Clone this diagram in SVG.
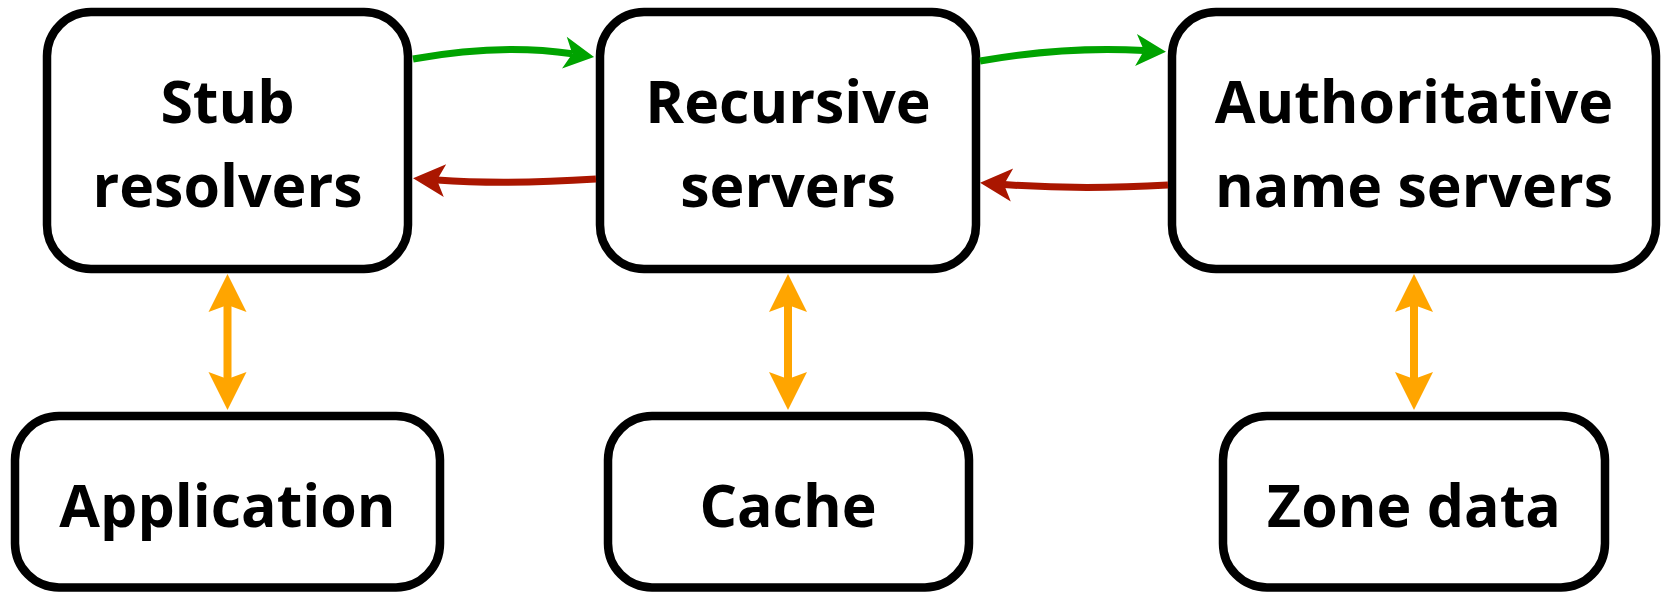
<svg xmlns="http://www.w3.org/2000/svg" width="1665" height="593" viewBox="0 0 1665 593">
  <style>
    .box { fill: #ffffff; stroke: #000000; stroke-width: 8.5; }
    .lbl { font-family: "Open Sans", "Liberation Sans", sans-serif; font-weight: 700; font-size: 59px; fill: #000000; text-anchor: middle; font-variant-ligatures: none; }
    .req { fill: none; stroke: #00a300; stroke-width: 7; }
    .rsp { fill: none; stroke: #aa1600; stroke-width: 7; }
    .acc { fill: none; stroke: #ffa500; stroke-width: 8; }
  </style>
  <defs>
    <marker id="hg" markerUnits="userSpaceOnUse" viewBox="-2 -20 36 40" markerWidth="36" markerHeight="40" refX="8" refY="0" orient="auto">
      <path d="M0,-16 L30,0 L0,16 L8,0 Z" fill="#00a300"/>
    </marker>
    <marker id="hr" markerUnits="userSpaceOnUse" viewBox="-2 -20 38 40" markerWidth="38" markerHeight="40" refX="8" refY="0" orient="auto">
      <path d="M0,-16.5 L32,0 L0,16.5 L8,0 Z" fill="#aa1600"/>
    </marker>
    <marker id="ho" markerUnits="userSpaceOnUse" viewBox="-2 -22 44 44" markerWidth="44" markerHeight="44" refX="7" refY="0" orient="auto-start-reverse">
      <path d="M0,-19 L38,0 L0,19 L7,0 Z" fill="#ffa500"/>
    </marker>
  </defs>

  <g id="stub">
    <rect class="box" x="47" y="12" width="361" height="257" rx="44" ry="44"/>
    <text class="lbl" x="227.5" y="123">Stub</text>
    <text class="lbl" x="227.5" y="206.5">resolvers</text>
  </g>
  <g id="recursive">
    <rect class="box" x="600" y="12" width="376" height="257" rx="44" ry="44"/>
    <text class="lbl" x="788" y="123">Recursive</text>
    <text class="lbl" x="788" y="206.5">servers</text>
  </g>
  <g id="authoritative">
    <rect class="box" x="1172" y="12" width="484" height="257" rx="44" ry="44"/>
    <text class="lbl" x="1414" y="123">Authoritative</text>
    <text class="lbl" x="1414" y="206.5">name servers</text>
  </g>
  <g id="application">
    <rect class="box" x="15" y="416" width="425" height="171.5" rx="44" ry="44"/>
    <text class="lbl" x="227.5" y="527">Application</text>
  </g>
  <g id="cache">
    <rect class="box" x="608" y="416" width="361" height="171.5" rx="44" ry="44"/>
    <text class="lbl" x="788" y="527">Cache</text>
  </g>
  <g id="zone">
    <rect class="box" x="1223" y="416" width="382" height="171.5" rx="44" ry="44"/>
    <text class="lbl" x="1414" y="527">Zone data</text>
  </g>

  <g id="connectors">
    <path class="req" d="M413,59 Q500,43 572.3,53.8" marker-end="url(#hg)"/>
    <path class="rsp" d="M596,179 Q505,185 437,180" marker-end="url(#hr)"/>
    <path class="req" d="M980,61 Q1065,46 1144,50.5" marker-end="url(#hg)"/>
    <path class="rsp" d="M1168,185 Q1080,190 1004,184.5" marker-end="url(#hr)"/>
    <path class="acc" d="M227.5,305 L227.5,379" marker-start="url(#ho)" marker-end="url(#ho)"/>
    <path class="acc" d="M788,305 L788,379" marker-start="url(#ho)" marker-end="url(#ho)"/>
    <path class="acc" d="M1414,305 L1414,379" marker-start="url(#ho)" marker-end="url(#ho)"/>
  </g>
</svg>
